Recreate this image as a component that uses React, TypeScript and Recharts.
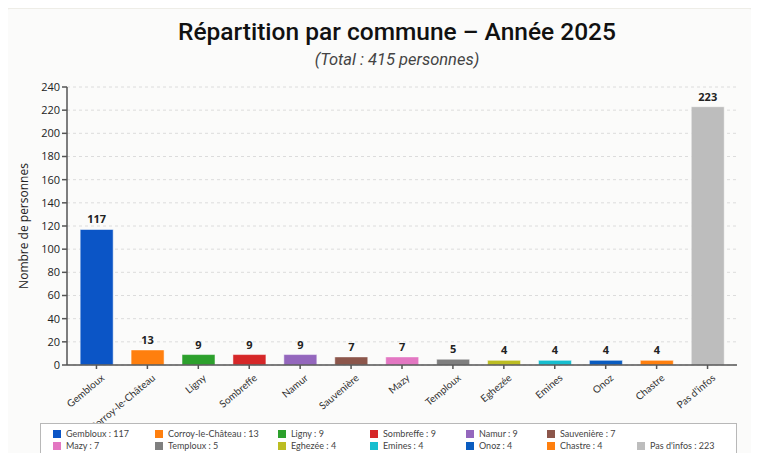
import React from 'react';
import { BarChart, Bar, XAxis, YAxis, CartesianGrid, LabelList, Cell } from 'recharts';

const communes = [
  'Gembloux', 'Corroy-le-Château', 'Ligny', 'Sombreffe', 'Namur', 'Sauvenière', 'Mazy',
  'Temploux', 'Eghezée', 'Emines', 'Onoz', 'Chastre', "Pas d'infos",
];
const personnes = [117, 13, 9, 9, 9, 7, 7, 5, 4, 4, 4, 4, 223];
const couleurs = [
  '#0b55c6', '#ff7f0e', '#2ca02c', '#d62728', '#9467bd', '#8c564b', '#e377c2',
  '#7f7f7f', '#bcbd22', '#17becf', '#0a5cc0', '#ff7f0e', '#bdbdbd',
];
const yTicks = [0, 20, 40, 60, 80, 100, 120, 140, 160, 180, 200, 220, 240];

const data = communes.map((nom, i) => ({ nom, valeur: personnes[i] }));

const sans = '"Open Sans", "DejaVu Sans", sans-serif';
const narrow = 'Lato, "Open Sans", sans-serif';

const RotatedTick = (props: any) => {
  const { x, y, payload } = props;
  return (
    <g transform={`translate(${x + 6},${y + 5})`}>
      <text textAnchor="end" transform="rotate(-40)" fontSize={10} fill="#333" fontFamily={narrow} dy={4}>
        {payload.value}
      </text>
    </g>
  );
};

const Legende = () => (
  <div
    style={{
      position: 'absolute',
      left: 40,
      top: 423,
      width: 697,
      height: 30,
      border: '1px solid #b8b8b8',
      borderBottom: 'none',
      background: '#fff',
      boxSizing: 'border-box',
      padding: '4px 0 0 12px',
      display: 'grid',
      gridTemplateColumns: '102px 123px 92px 96px 81px 90px auto',
      gridTemplateRows: '12px 12px',
      rowGap: 0,
      fontFamily: narrow,
      fontSize: 9,
      lineHeight: '12px',
      color: '#444',
    }}
  >
    {communes.map((nom, i) => (
      <div
        key={nom}
        style={{
          gridRow: i < 6 ? 1 : 2,
          gridColumn: i < 6 ? i + 1 : i - 5,
          display: 'flex',
          alignItems: 'center',
          height: 12,
          whiteSpace: 'nowrap',
        }}
      >
        <span style={{ width: 8, height: 8, background: couleurs[i], marginRight: 5, display: 'inline-block' }} />
        {nom} : {personnes[i]}
      </div>
    ))}
  </div>
);

export default function App() {
  return (
    <div
      style={{
        position: 'relative',
        width: 759,
        height: 453,
        margin: '-8px -8px 0 -8px',
        background: '#eeede7',
        overflow: 'hidden',
      }}
    >
      <div
        style={{
          position: 'absolute',
          left: 7,
          top: 9,
          width: 745,
          height: 460,
          background: '#fbfbfa',
          borderRadius: 3,
        }}
      />
      <div
        style={{
          position: 'absolute',
          left: 0,
          width: 794,
          top: 17,
          textAlign: 'center',
          fontFamily: 'Roboto, sans-serif',
          fontWeight: 500,
          fontSize: 24.5,
          color: '#111',
        }}
      >
        Répartition par commune – Année 2025
      </div>
      <div
        style={{
          position: 'absolute',
          left: 0,
          width: 794,
          top: 50,
          textAlign: 'center',
          fontFamily: 'Roboto, sans-serif',
          fontStyle: 'italic',
          fontSize: 16.5,
          color: '#444',
        }}
      >
        (Total : 415 personnes)
      </div>
      <div style={{ position: 'absolute', left: 0, top: 0 }}>
        <BarChart
          width={759}
          height={453}
          data={data}
          margin={{ top: 87, right: 22, bottom: 0, left: 7 }}
          barCategoryGap="18%"
        >
          <CartesianGrid vertical={false} stroke="#dcdcdc" strokeDasharray="3 3" />
          <XAxis
            dataKey="nom"
            interval={0}
            height={88}
            tick={<RotatedTick />}
            tickSize={4}
            stroke="#555"
            strokeWidth={1.5}
            padding={{ left: 4, right: 4 }}
          />
          <YAxis
            width={60}
            domain={[0, 240]}
            ticks={yTicks}
            interval={0}
            tickSize={5}
            stroke="#555"
            strokeWidth={1.5}
            tick={{ fontSize: 11, fill: '#222', fontFamily: sans }}
            label={{
              value: 'Nombre de personnes',
              angle: -90,
              position: 'insideLeft',
              dx: 12,
              style: { textAnchor: 'middle', fontSize: 12, fill: '#222', fontFamily: sans },
            }}
          />
          <Bar dataKey="valeur" isAnimationActive={false} stroke="rgba(255,255,255,0.5)">
            {data.map((d, i) => (
              <Cell key={d.nom} fill={couleurs[i]} />
            ))}
            <LabelList
              dataKey="valeur"
              position="top"
              offset={6}
              style={{ fontSize: 11, fontWeight: 700, fill: '#222', fontFamily: sans }}
            />
          </Bar>
        </BarChart>
      </div>
      <Legende />
    </div>
  );
}
